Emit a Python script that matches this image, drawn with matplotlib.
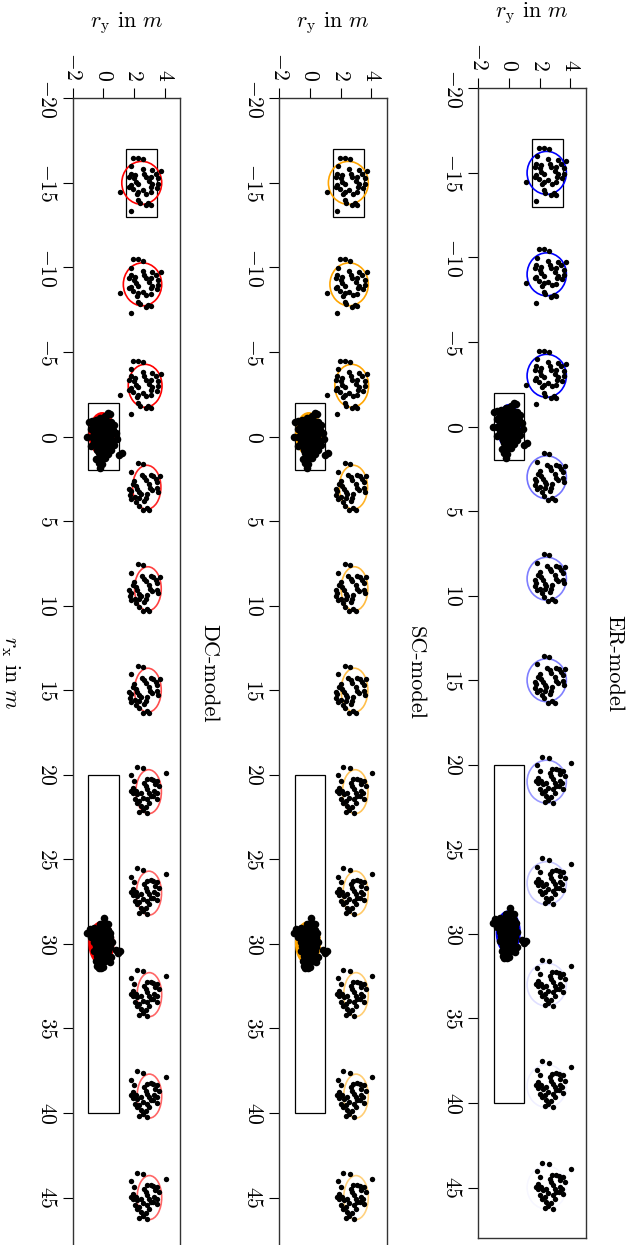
import matplotlib
matplotlib.use("Agg")
import matplotlib.pyplot as plt
from matplotlib.patches import Ellipse, Rectangle

plt.rcParams['font.family'] = 'cmr10'
plt.rcParams['mathtext.fontset'] = 'cm'
plt.rcParams['axes.formatter.use_mathtext'] = True

# centres of the sparse clusters along r_x (m)
cluster_rx = [-15, -9, -3, 3, 9, 15, 21, 27, 33, 39, 45]
cluster_tmpl = ['A', 'A', 'A', 'C', 'C', 'C', 'B', 'B', 'B', 'B', 'B']

# point patterns: absolute r_y and r_x offset from cluster centre
tmpl_a_ry = [1.94, 2.27, 2.61, 1.83, 1.79, 1.68, 2.07, 2.55, 2.65, 2.76, 3.19, 3.41, 3.74,
             3.08, 2.98, 3.19, 3.56, 3.56, 3.47, 2.00, 2.11, 2.27, 1.79, 1.68, 1.96, 2.27,
             2.18, 2.55, 2.81, 3.13, 3.08, 1.09, 2.27, 2.37, 2.76, 2.94, 3.08, 1.77]
tmpl_a_dx = [-1.48, -1.48, -1.40, -0.98, -0.55, -0.35, -0.45, -0.79, -0.55, -0.35, -0.75, -0.55, -0.71,
             -0.35, -0.12, 0.08, -0.26, 0.04, 0.28, -0.26, -0.06, 0.08, 0.14, 0.24, 0.37, 0.53,
             0.67, 0.43, 0.63, 0.24, 0.57, 0.53, 1.02, 1.18, 1.32, 1.22, 1.30, 1.67]

tmpl_b_ry = [2.18, 2.59, 4.06, 1.83, 2.83, 3.08, 3.26, 3.52, 3.35, 3.63, 2.00, 1.90, 1.79,
             2.11, 2.22, 2.65, 2.76, 2.87, 2.98, 3.08, 2.87, 2.98, 3.30, 3.47, 3.26, 3.52,
             2.44, 2.55, 2.33, 2.18, 2.44, 2.55, 2.33, 2.87, 2.76, 2.05, 1.92]
tmpl_b_dx = [-1.48, -1.38, -1.12, -0.96, -0.73, -0.77, -0.69, -0.63, -0.43, -0.33, -0.63, -0.24, -0.04,
             -0.04, 0.16, -0.53, -0.33, -0.14, 0.06, 0.26, 0.45, 0.65, -0.04, 0.06, 0.26, 0.41,
             0.06, 0.35, 0.55, 0.65, 0.85, 1.08, 1.20, 1.24, 0.89, 0.45, 0.10]

tmpl_c_ry = [2.27, 2.59, 1.83, 2.50, 2.65, 2.76, 3.08, 3.26, 3.41, 3.67, 3.52, 2.00, 1.92,
             1.68, 1.79, 1.72, 1.83, 2.11, 2.22, 2.33, 2.98, 3.04, 3.19, 3.52, 3.56, 2.83,
             2.76, 2.65, 2.44, 2.33, 2.05, 2.14, 2.29, 2.55, 2.83, 2.98]
tmpl_c_dx = [-1.44, -1.38, -0.93, -0.73, -0.59, -0.45, -0.75, -0.69, -0.49, -0.69, -0.33, -0.39, -0.20,
             0.10, 0.24, 0.45, 0.69, -0.10, 0.10, 0.30, -0.20, 0.02, 0.14, 0.06, 0.26, 0.39,
             0.61, 0.81, 0.41, 0.61, 0.59, 0.85, 1.08, 1.32, 1.20, 1.34]

templates = {'A': (tmpl_a_ry, tmpl_a_dx), 'B': (tmpl_b_ry, tmpl_b_dx), 'C': (tmpl_c_ry, tmpl_c_dx)}

# dense clusters near the road centre
dense0_ry = [0.3, 0.45, 0.1, -0.2, -0.95, -0.75, -0.5, -0.1, 0.2, 0.5, -0.6, -0.3, 0.0, 0.3, 0.7,
             -0.8, -0.5, -0.2, 0.1, 0.4, 0.65, -0.6, -0.3, 0.0, 0.25, 0.55, 0.85, -1.05, -0.75,
             -0.45, -0.15, 0.15, 0.45, 0.9, -0.6, -0.3, 0.0, 0.3, 0.6, -0.8, -0.5, -0.2, 0.1, 0.4,
             0.7, -0.4, -0.1, 0.2, 0.5, -0.3, 0.0, 0.3, 1.0, 1.2, -0.45, -0.15, 0.1, -0.3, -0.1, -0.2]
dense0_rx = [-1.4, -1.35, -1.2, -1.1, -0.85, -0.9, -0.95, -0.9, -0.95, -0.85, -0.7, -0.65, -0.7, -0.6, -0.7,
             -0.45, -0.4, -0.45, -0.4, -0.35, -0.4, -0.2, -0.15, -0.2, -0.1, -0.15, -0.2, 0.0, 0.05,
             0.05, 0.0, 0.05, 0.1, 0.15, 0.3, 0.3, 0.3, 0.35, 0.3, 0.55, 0.5, 0.55, 0.55, 0.6,
             0.5, 0.8, 0.8, 0.85, 0.8, 1.0, 1.05, 1.05, 1.1, 1.0, 1.3, 1.3, 1.25, 1.55, 1.6, 1.85]

dense30_ry = [0.06, -0.2, 0.1, 0.3, -0.9, -0.6, -0.3, 0.0, 0.3, -1.05, -0.7, -0.4, -0.1, 0.2, 0.45,
              -0.8, -0.5, -0.2, 0.1, 0.4, -0.6, -0.3, 0.0, 0.3, 0.55, -0.5, -0.2, 0.1, 0.4,
              -0.6, -0.3, 0.0, 0.3, 0.85, 1.1, 0.95, -0.4, -0.1, 0.2, 0.5, -0.45, -0.2, 0.1, 0.4,
              -0.4, -0.15, -0.3, 0.0]
dense30_rx = [28.45, 28.8, 28.75, 28.85, 29.1, 29.05, 29.1, 29.1, 29.15, 29.35, 29.35, 29.4, 29.35, 29.4, 29.35,
              29.6, 29.65, 29.6, 29.65, 29.6, 29.9, 29.85, 29.9, 29.95, 29.9, 30.15, 30.1, 30.15, 30.2,
              30.4, 30.4, 30.45, 30.4, 30.35, 30.45, 30.55, 30.7, 30.7, 30.75, 30.8, 31.0, 31.05, 31.0, 31.05,
              31.3, 31.4, 31.45, 31.35]

# estimated ellipses (centre r_y, half-axis r_y, half-axis r_x, strength)
er_ell_ry = [2.46, 2.46, 2.46, 2.46, 2.46, 2.46, 2.46, 2.46, 2.46, 2.46, 2.46]
er_ell_a = [1.28, 1.28, 1.28, 1.28, 1.28, 1.28, 1.28, 1.28, 1.28, 1.28, 1.28]
er_ell_b = [1.27, 1.27, 1.27, 1.27, 1.27, 1.27, 1.27, 1.27, 1.27, 1.27, 1.27]
er_alpha = [1.0, 1.0, 1.0, 0.55, 0.5, 0.5, 0.4, 0.22, 0.12, 0.06, 0.03]

sc_ell_ry = [2.5, 2.55, 2.72, 2.83, 2.9, 2.9, 2.95, 2.97, 3.0, 3.0, 3.0]
sc_ell_a = [1.3, 1.25, 1.1, 0.92, 0.87, 0.87, 0.83, 0.82, 0.8, 0.8, 0.8]
sc_ell_b = [1.27, 1.27, 1.27, 1.3, 1.3, 1.3, 1.3, 1.3, 1.3, 1.3, 1.3]
sc_alpha = [1.0, 1.0, 1.0, 0.85, 0.75, 0.7, 0.65, 0.6, 0.55, 0.55, 0.5]
dc_alpha = [1.0, 1.0, 1.0, 0.85, 0.75, 0.7, 0.65, 0.6, 0.6, 0.6, 0.6]

# dense-cluster ellipses: (centre r_y, centre r_x, half r_y, half r_x)
er_dense = [(0.0, 0.0, 0.7, 1.25), (-0.05, 29.9, 0.72, 1.2)]
dc_dense = [(-0.08, -0.15, 0.84, 1.25), (-0.13, 29.95, 0.8, 1.25)]

# rectangles (r_y0, r_x0, width, height)
rects = [(1.5, -17, 2, 4), (-1, -2, 2, 4), (-1, 20, 2, 20)]

panels = [
    ("ER-model", 'blue', er_ell_ry, er_ell_a, er_ell_b, er_alpha, er_dense, False, [478.3, 88.3]),
    ("SC-model", 'orange', sc_ell_ry, sc_ell_a, sc_ell_b, sc_alpha, dc_dense, True, [279.3, 98.3]),
    ("DC-model", 'red', sc_ell_ry, sc_ell_a, sc_ell_b, dc_alpha, dc_dense, True, [72.7, 98.3]),
]

W, H = 632, 1245
fig = plt.figure(figsize=(W / 100, H / 100), dpi=100)

for name, col, ell_ry, ell_a, ell_b, alphas, dense, filled, (px, py) in panels:
    ax = fig.add_axes([px / W, 1 - (py + 1150) / H, 107.4 / W, 1150 / H])
    ax.set_xlim(-2, 5)
    ax.set_ylim(48, -20)

    for r0, x0, w, h in rects:
        ax.add_patch(Rectangle((r0, x0), w, h, fill=False, ec='black', lw=0.9, zorder=1))

    for i, cx in enumerate(cluster_rx):
        ry, dx = templates[cluster_tmpl[i]]
        ax.scatter(ry, [cx + d for d in dx], s=15, color='black', lw=0, zorder=3)
        ax.add_patch(Ellipse((ell_ry[i], cx), 2 * ell_a[i], 2 * ell_b[i], fill=False,
                             ec=col, alpha=alphas[i], lw=1.2, zorder=2))

    for cy, cx, a, b in dense:
        if filled:
            ax.add_patch(Ellipse((cy, cx), 2 * a, 2 * b, fc=col, ec=col, lw=1.2, zorder=2))
        else:
            ax.add_patch(Ellipse((cy, cx), 2 * a, 2 * b, fill=False, ec=col, lw=2.2, zorder=2))
    ax.scatter(dense0_ry, dense0_rx, s=30, color='black', lw=0, zorder=3)
    ax.scatter(dense30_ry, dense30_rx, s=30, color='black', lw=0, zorder=3)

    ax.set_xticks([-2, 0, 2, 4])
    ax.set_yticks(list(range(-20, 46, 5)))
    ax.xaxis.tick_top()
    ax.tick_params(axis='both', direction='out', length=7.5, width=0.8, labelsize=15.5)
    ax.tick_params(axis='x', labelrotation=-90, pad=5)
    ax.tick_params(axis='y', labelrotation=-90, pad=4)
    for lab in ax.get_yticklabels():
        lab.set_va('center')
    for sp in ax.spines.values():
        sp.set_linewidth(1.0)
        sp.set_color('#333333')

    fig.text((px + 53.7) / W, 1 - (py - 75) / H, r'$r_\mathrm{y}$ in $m$', ha='center', va='center',
             fontsize=16)
    fig.text((px + 107.4 + 19) / W, 1 - (py + 575) / H, name, rotation=-90, ha='left', va='center',
             fontsize=16)

fig.text(10 / W, 1 - 673 / H, r'$r_\mathrm{x}$ in $m$', rotation=-90, ha='center', va='center',
         fontsize=16)

fig.savefig('out.png', dpi=100)
